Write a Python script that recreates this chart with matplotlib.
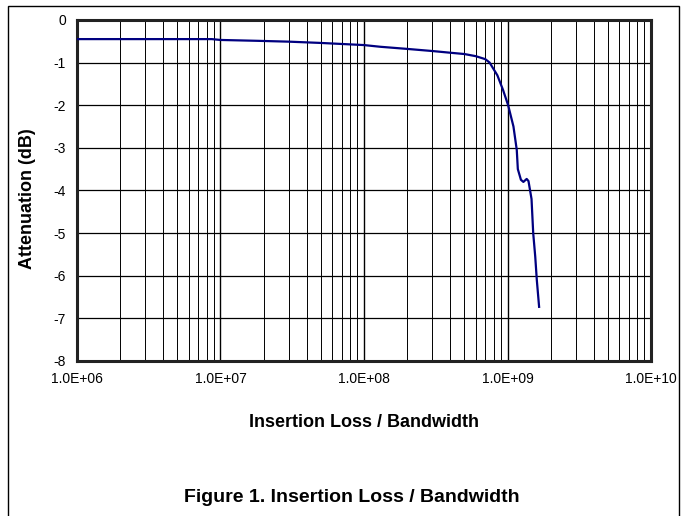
import numpy as np
import matplotlib.pyplot as plt
from matplotlib.patches import Rectangle
from matplotlib.ticker import FixedLocator, LogLocator, NullFormatter

plt.rcParams['font.family'] = ['Liberation Sans', 'DejaVu Sans']

# Insertion loss curve (frequency in Hz, attenuation in dB)
freq = [1.0e6, 3.0e6, 8.7e6, 1.0e7, 1.8e7, 3.0e7, 5.0e7, 1.0e8, 1.3e8, 2.0e8,
        3.0e8, 4.0e8, 5.0e8, 6.0e8, 7.0e8, 7.5e8, 8.5e8, 9.3e8, 1.01e9, 1.1e9,
        1.16e9, 1.18e9, 1.24e9, 1.29e9, 1.36e9, 1.40e9, 1.47e9, 1.51e9, 1.56e9,
        1.60e9, 1.66e9]
atten = [-0.45, -0.45, -0.45, -0.47, -0.49, -0.51, -0.54, -0.59, -0.63, -0.68,
         -0.73, -0.77, -0.80, -0.85, -0.92, -1.00, -1.30, -1.64, -2.00, -2.50,
         -3.05, -3.50, -3.75, -3.80, -3.73, -3.78, -4.20, -5.00, -5.55,
         -6.10, -6.73]

x_ticks = [1e6, 1e7, 1e8, 1e9, 1e10]
x_labels = ['1.0E+06', '1.0E+07', '1.0E+08', '1.0E+09', '1.0E+10']
y_ticks = [0, -1, -2, -3, -4, -5, -6, -7, -8]

fig = plt.figure(figsize=(6.81, 5.16), dpi=100)
ax = fig.add_axes([0.113, 0.3004, 0.843, 0.661])

ax.set_xscale('log')
ax.set_xlim(1e6, 1e10)
ax.set_ylim(-8, 0)

# grid: decade lines, minor lines, integer dB lines
ax.xaxis.set_major_locator(FixedLocator(x_ticks))
ax.xaxis.set_minor_locator(LogLocator(base=10, subs=np.arange(2, 10)))
ax.xaxis.set_minor_formatter(NullFormatter())
ax.set_xticklabels(x_labels)
ax.set_yticks(y_ticks)
ax.set_yticklabels([str(v) for v in y_ticks])
ax.grid(True, which='major', axis='x', color='black', linewidth=1.0)
ax.grid(True, which='minor', axis='x', color='black', linewidth=0.7)
ax.grid(True, which='major', axis='y', color='black', linewidth=0.9)
ax.tick_params(which='both', length=0, labelsize=10, pad=8)

ax.plot(freq, atten, color='#000080', linewidth=1.6, zorder=3)

for s in ax.spines.values():
    s.set_linewidth(2.2)
    s.set_color('#222222')

ax.set_ylabel('Attenuation (dB)', fontsize=13, fontweight='bold')
ax.yaxis.set_label_coords(-0.072, 0.475)
ax.set_xlabel('Insertion Loss / Bandwidth', fontsize=13, fontweight='bold', labelpad=20)

fig.text(0.516, 0.035, 'Figure 1. Insertion Loss / Bandwidth', ha='center', va='center',
         fontsize=14, fontweight='bold')

# outer frame
fig.patches.append(Rectangle((0.0117, -0.02), 0.985, 1.008, transform=fig.transFigure,
                             fill=False, edgecolor='black', linewidth=1.0))

fig.savefig('out.png', dpi=100)
